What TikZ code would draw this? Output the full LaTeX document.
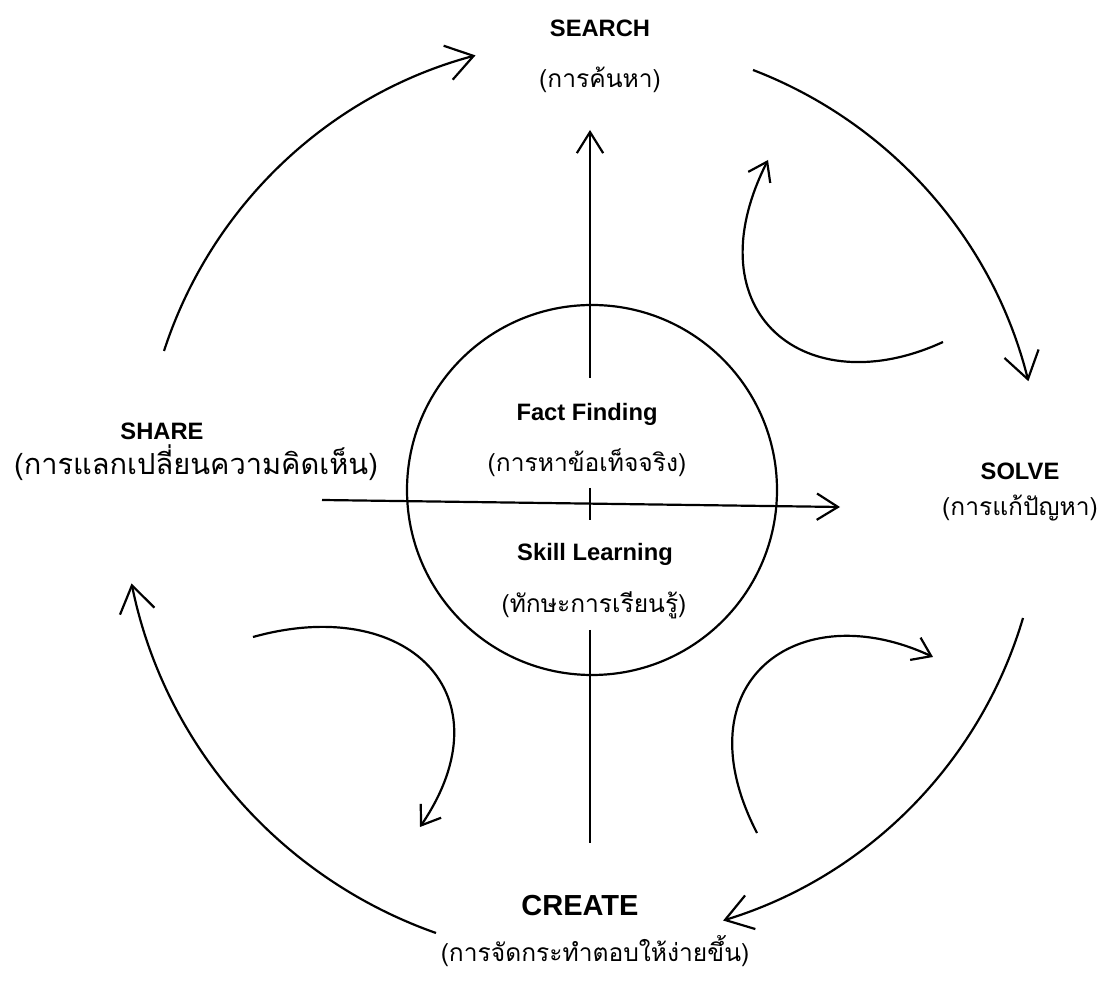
\documentclass[tikz,border=0pt]{standalone}
\usepackage{fontspec}
\setmainfont{Liberation Sans}
\newfontfamily\thaifont[Script=Thai]{Loma}
\usetikzlibrary{arrows.meta}

\begin{document}
\begin{tikzpicture}[x=0.02cm, y=0.02cm, line width=1.25pt,
    head/.style={font=\bfseries\fontsize{13.5}{16}\selectfont},
    bighead/.style={font=\bfseries\fontsize{16.5}{20}\selectfont},
    thai/.style={font=\thaifont\fontsize{14}{17}\selectfont},
    cycle arrow/.style={-{Straight Barb[length=15pt,width=20pt]}},
    loop arrow/.style={-{Straight Barb[length=10pt,width=14pt]}},
    axis arrow/.style={-{Straight Barb[length=12pt,width=15pt]}},
  ]
  \useasboundingbox (0,0) rectangle (1098,990);
  % Sizes
  \pgfmathsetmacro{\ringr}{450}
  \pgfmathsetmacro{\outr}{470}
  \pgfmathsetmacro{\corer}{185}

  % coordinates
  \coordinate (hub) at (592, 500);
  \coordinate (s1) at (164, 639);
  \coordinate (s2) at (753, 920);
  \coordinate (s3) at (1023, 372);
  \coordinate (s4) at (436, 57);
  \coordinate (up1) at (590, 612);
  \coordinate (up2) at (590, 860);
  \coordinate (tk1) at (590, 502);
  \coordinate (tk2) at (590, 470);
  \coordinate (dn1) at (590, 360);
  \coordinate (dn2) at (590, 147);
  \coordinate (lr1) at (322, 490);
  \coordinate (lr2) at (840, 483);
  \coordinate (la1) at (943, 648);
  \coordinate (la2) at (768, 830);
  \coordinate (lb1) at (757, 157);
  \coordinate (lb2) at (933, 333);
  \coordinate (lc1) at (253, 353);
  \coordinate (lc2) at (420, 163);

  % core circle and axes
  \draw (hub) circle[radius=\corer];
  \draw[axis arrow] (up1) -- (up2);
  \draw (tk1) -- (tk2);
  \draw (dn1) -- (dn2);
  \draw[axis arrow] (lr1) -- (lr2);

  % outer cycle
  \draw[cycle arrow] (s1) arc[start angle=162, end angle=105, radius=\ringr];
  \draw[cycle arrow] (s2) arc[start angle=69, end angle=14, radius=\ringr];
  \draw[cycle arrow] (s3) arc[start angle=-16.5, end angle=-73, radius=\ringr];
  \draw[cycle arrow] (s4) arc[start angle=250.6, end angle=191.5, radius=\outr];

  % inner loops
  \draw[loop arrow] (la1) .. controls (806, 585) and (691, 677) .. (la2);
  \draw[loop arrow] (lb1) .. controls (679, 308) and (798, 396) .. (lb2);
  \draw[loop arrow] (lc1) .. controls (407, 396) and (510, 296) .. (lc2);

  % labels
  \node[head] (search) at (600, 962) {SEARCH};
  \node[thai] (searchth) at (600, 910) {(การค้นหา)};
  \node[head] (share) at (162, 559) {SHARE};
  \node[thai, font=\thaifont\fontsize{16.5}{19}\selectfont] (shareth) at (196, 527) {(การแลกเปลี่ยนความคิดเห็น)};
  \node[head] (solve) at (1020, 519) {SOLVE};
  \node[thai] (solveth) at (1020, 482) {(การแก้ปัญหา)};
  \node[bighead] (create) at (580, 84) {CREATE};
  \node[thai] (createth) at (595, 39) {(การจัดกระทำตอบให้ง่ายขึ้น)};
  \node[head] (fact) at (587, 576) {Fact Finding};
  \node[thai] (factth) at (587, 527) {(การหาข้อเท็จจริง)};
  \node[head] (skill) at (595, 436) {Skill Learning};
  \node[thai] (skillth) at (594, 385) {(ทักษะการเรียนรู้)};
\end{tikzpicture}
\end{document}
